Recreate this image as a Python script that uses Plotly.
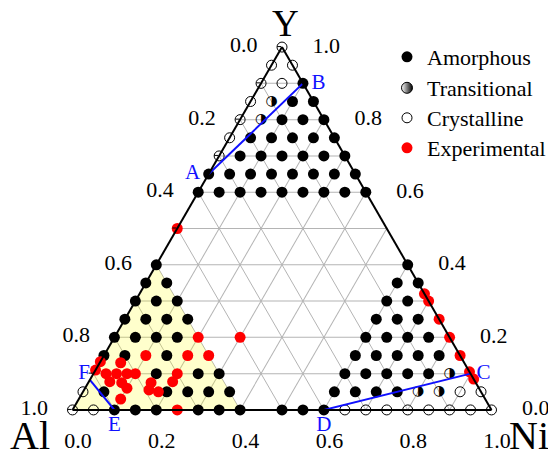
import plotly.graph_objects as go

# ---- data: compositions as (Y fraction, Ni fraction); Al = 1 - Y - Ni ----
amorph_rows_Y = [0.90, 0.85, 0.80, 0.75, 0.70, 0.65, 0.60,
                 0.40, 0.35, 0.30, 0.25, 0.20, 0.15, 0.10, 0.05, 0.00]
amorph_rows_Ni = [
    [0.10],
    [0.10, 0.15],
    [0.10, 0.15, 0.20],
    [0.05, 0.10, 0.15, 0.20, 0.25],
    [0.05, 0.10, 0.15, 0.20, 0.25, 0.30],
    [0.00, 0.05, 0.10, 0.15, 0.20, 0.25, 0.30, 0.35],
    [0.00, 0.05, 0.10, 0.15, 0.20, 0.25, 0.30, 0.35, 0.40],
    [0.00, 0.60],
    [0.00, 0.05, 0.60, 0.65],
    [0.00, 0.05, 0.10, 0.60, 0.65],
    [0.00, 0.05, 0.10, 0.15, 0.60, 0.65, 0.70],
    [0.00, 0.05, 0.10, 0.15, 0.60, 0.65, 0.70, 0.75],
    [0.00, 0.05, 0.15, 0.60, 0.65, 0.70, 0.75, 0.80],
    [0.15, 0.25, 0.30, 0.60, 0.65, 0.70, 0.75, 0.80],
    [0.05, 0.20, 0.25, 0.30, 0.35, 0.60, 0.65, 0.70, 0.75],
    [0.10, 0.15, 0.20, 0.30, 0.35, 0.40, 0.50, 0.55, 0.60],
]

trans_Y = [0.85, 0.80, 0.10, 0.05, 0.05]
trans_Ni = [0.05, 0.05, 0.85, 0.80, 0.85]

cryst_Y = [1.00, 0.95, 0.95, 0.90, 0.90, 0.85, 0.80, 0.75, 0.70,
           0.05, 0.00, 0.00, 0.05, 0.05,
           0.00, 0.00, 0.00, 0.00, 0.00, 0.00, 0.00, 0.00]
cryst_Ni = [0.00, 0.00, 0.05, 0.00, 0.05, 0.00, 0.00, 0.00, 0.00,
            0.00, 0.00, 0.05, 0.90, 0.95,
            0.65, 0.70, 0.75, 0.80, 0.85, 0.90, 0.95, 1.00]

exp_Y = [0.50, 0.133, 0.11, 0.13, 0.10, 0.10, 0.10, 0.10, 0.078, 0.075,
         0.06, 0.03, 0.15, 0.075, 0.055, 0.05, 0.078, 0.15, 0.15, 0.20,
         0.20, 0.10, 0.00,
         0.32, 0.30, 0.25, 0.20, 0.15, 0.105, 0.085]
exp_Ni = [0.00, 0.00, 0.00, 0.05, 0.03, 0.055, 0.08, 0.10, 0.05, 0.08,
          0.10, 0.10, 0.10, 0.15, 0.155, 0.18, 0.20, 0.20, 0.25, 0.20,
          0.30, 0.20, 0.25,
          0.68, 0.70, 0.75, 0.80, 0.85, 0.895, 0.915]

region_Y = [0.40, 0.00, 0.00, 0.40]
region_Ni = [0.00, 0.00, 0.40, 0.00]

line_AB_Y, line_AB_Ni = [0.65, 0.90], [0.00, 0.10]
line_CD_Y, line_CD_Ni = [0.10, 0.00], [0.90, 0.60]
line_EF_Y, line_EF_Ni = [0.00, 0.083], [0.10, 0.00]

# label anchors (composition where each letter is written)
pt_labels = ["A", "B", "C", "D", "E", "F"]
pt_Y = [0.65, 0.90, 0.10, 0.00, 0.00, 0.10]
pt_Ni = [0.00, 0.10, 0.90, 0.60, 0.10, 0.00]
pt_textpos = ["middle left", "middle right", "middle right",
              "bottom center", "bottom center", "middle left"]
pt_gap = [12, 12, 8, 7, 7, 4]   # spacing of each label from its anchor

tick_vals = [0.0, 0.1, 0.2, 0.3, 0.4, 0.5, 0.6, 0.7, 0.8, 0.9, 1.0]
tick_text = ["1.0", "", "0.8", "", "0.6", "", "0.4", "", "0.2", "", "0.0"]

# ---- build ----
def al(ys, nis):
    return [round(1 - y - n, 6) for y, n in zip(ys, nis)]

amorph_Y, amorph_Ni = [], []
for y, row in zip(amorph_rows_Y, amorph_rows_Ni):
    for n in row:
        amorph_Y.append(y)
        amorph_Ni.append(n)

SERIF = "Liberation Serif, Times New Roman, serif"
BLUE = "#1010ff"
NB = "\u00a0"
W, H = 556, 458
OFF = 8  # page margin offset of the plot in the browser

fig = go.Figure()

fig.add_trace(go.Scatterternary(
    a=region_Y, b=al(region_Y, region_Ni), c=region_Ni, mode="lines",
    fill="toself", fillcolor="rgba(255,255,0,0.2)", line=dict(width=0),
    showlegend=False, hoverinfo="skip"))

fig.add_trace(go.Scatterternary(
    a=amorph_Y, b=al(amorph_Y, amorph_Ni), c=amorph_Ni, mode="markers",
    name="Amorphous", cliponaxis=False, legend="legend",
    marker=dict(symbol="circle", size=11, color="black")))

fig.add_trace(go.Scatterternary(
    a=trans_Y, b=al(trans_Y, trans_Ni), c=trans_Ni, mode="text",
    text=["\u25D1"] * len(trans_Y), textposition="middle center",
    cliponaxis=False,
    textfont=dict(family="DejaVu Sans", size=14, color="black"),
    showlegend=False, hoverinfo="skip"))
fig.add_trace(go.Scatterternary(
    a=[None], b=[None], c=[None], mode="markers", name="Transitional",
    legend="legend2",
    marker=dict(symbol="circle", size=11, color="white",
                line=dict(color="black", width=1),
                gradient=dict(type="horizontal", color="black"))))

fig.add_trace(go.Scatterternary(
    a=cryst_Y, b=al(cryst_Y, cryst_Ni), c=cryst_Ni, mode="markers",
    name="Crystalline", cliponaxis=False, legend="legend3",
    marker=dict(symbol="circle", size=10, color="rgba(0,0,0,0)",
                line=dict(color="black", width=1))))

fig.add_trace(go.Scatterternary(
    a=exp_Y, b=al(exp_Y, exp_Ni), c=exp_Ni, mode="markers",
    name="Experimental", cliponaxis=False, legend="legend4",
    marker=dict(symbol="circle", size=11, color="#ff0000")))

for ys, ns in [(line_AB_Y, line_AB_Ni), (line_CD_Y, line_CD_Ni), (line_EF_Y, line_EF_Ni)]:
    fig.add_trace(go.Scatterternary(
        a=ys, b=al(ys, ns), c=ns, mode="lines", cliponaxis=False,
        line=dict(color=BLUE, width=2), showlegend=False, hoverinfo="skip"))

fig.add_trace(go.Scatterternary(
    a=pt_Y, b=al(pt_Y, pt_Ni), c=pt_Ni, mode="markers+text", text=pt_labels,
    textposition=pt_textpos, cliponaxis=False,
    marker=dict(size=pt_gap, color="rgba(0,0,0,0)", opacity=0),
    textfont=dict(family=SERIF, size=21, color=BLUE),
    showlegend=False, hoverinfo="skip"))


def axis(texts, ticks="outside", ticklen=4, tickcolor="black"):
    return dict(
        min=0, tickmode="array", tickvals=tick_vals, ticktext=texts,
        tickfont=dict(family=SERIF, size=22, color="black"),
        ticks=ticks, ticklen=ticklen, tickwidth=1, tickcolor=tickcolor,
        showgrid=True, gridcolor="#b4b4b4", gridwidth=1,
        showline=True, linecolor="black", linewidth=2,
        layer="above traces", title=dict(text=""))


left_text = [t + NB * 3 if t else "" for t in tick_text]
right_text = [NB * 5 + t if t else "" for t in tick_text]


def px_x(x):
    return (x - OFF) / W


def px_y(y):
    return 1 - (y - OFF) / H


def legend_at(y_px):
    return dict(x=px_x(387), y=px_y(y_px), xanchor="left", yanchor="middle",
                bgcolor="rgba(0,0,0,0)",
                font=dict(family=SERIF, size=22, color="black"))


fig.update_layout(
    width=W, height=H,
    margin=dict(l=0, r=0, t=0, b=0),
    paper_bgcolor="white",
    ternary=dict(
        sum=1, bgcolor="white",
        domain=dict(x=[px_x(72.5), px_x(491.5)], y=[px_y(410), px_y(47)]),
        aaxis=axis(left_text),
        baxis=axis(tick_text, ticklen=11, tickcolor="rgba(0,0,0,0)"),
        caxis=axis(right_text, ticks="")),
    legend=legend_at(57),
    legend2=legend_at(88),
    legend3=legend_at(118),
    legend4=legend_at(148),
    annotations=[
        dict(text="Y", x=px_x(285), y=px_y(24), xref="paper", yref="paper",
             xanchor="center", yanchor="middle",
             showarrow=False, font=dict(family=SERIF, size=37, color="black")),
        dict(text="Al", x=px_x(30), y=px_y(435), xref="paper", yref="paper",
             xanchor="center", yanchor="middle",
             showarrow=False, font=dict(family=SERIF, size=40, color="black")),
        dict(text="Ni", x=px_x(529), y=px_y(435), xref="paper", yref="paper",
             xanchor="center", yanchor="middle",
             showarrow=False, font=dict(family=SERIF, size=40, color="black")),
    ],
)

fig.write_html("out.html")
